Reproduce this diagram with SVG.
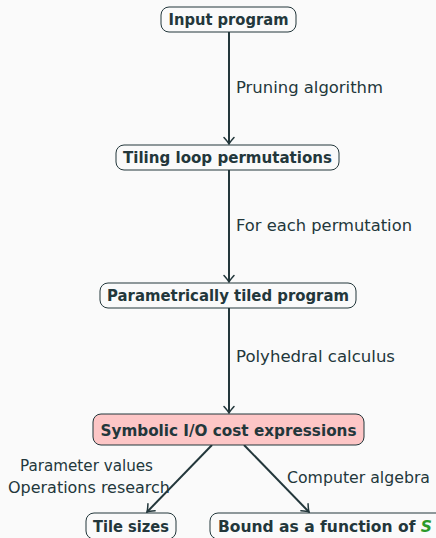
<svg xmlns="http://www.w3.org/2000/svg" width="436" height="538" viewBox="0 0 436 538">
  <defs>
    <marker id="tip" viewBox="-8 -6 10 12" markerWidth="10" markerHeight="12" refX="0" refY="0" orient="auto" markerUnits="userSpaceOnUse">
      <path d="M-6.5,-5 Q-2,-1 0,0 Q-2,1 -6.5,5" fill="none" stroke="#23373b" stroke-width="1.5" stroke-linecap="round"/>
    </marker>
  </defs>
  <style>
    .box { fill: #fafafa; stroke: #23373b; stroke-width: 1; }
    .hot { fill: #fdc6c6; }
    .nt { font-family: "DejaVu Sans", sans-serif; font-weight: bold; font-size: 15.5px; fill: #23373b; text-anchor: middle; }
    .lb { font-family: "DejaVu Sans", sans-serif; font-size: 15.5px; fill: #23373b; }
    .edge { stroke: #23373b; stroke-width: 2; fill: none; marker-end: url(#tip); }
    .s { fill: #2a9a2a; font-style: italic; }
  </style>
  <rect width="436" height="538" fill="#fafafa"/>

  <g id="edges">
    <line class="edge" x1="229" y1="32" x2="229" y2="144"/>
    <line class="edge" x1="229" y1="170" x2="229" y2="282"/>
    <line class="edge" x1="229" y1="308" x2="229" y2="413"/>
    <line class="edge" x1="212" y1="445" x2="147" y2="512"/>
    <line class="edge" x1="244" y1="445" x2="309" y2="512"/>
    <text class="lb" x="236" y="93" textLength="147" lengthAdjust="spacingAndGlyphs">Pruning algorithm</text>
    <text class="lb" x="236" y="231" textLength="176" lengthAdjust="spacingAndGlyphs">For each permutation</text>
    <text class="lb" x="236" y="362" textLength="159" lengthAdjust="spacingAndGlyphs">Polyhedral calculus</text>
    <text class="lb" x="20" y="471" textLength="133" lengthAdjust="spacingAndGlyphs">Parameter values</text>
    <text class="lb" x="8" y="493" textLength="162" lengthAdjust="spacingAndGlyphs">Operations research</text>
    <text class="lb" x="287" y="483" textLength="143" lengthAdjust="spacingAndGlyphs">Computer algebra</text>
  </g>

  <g id="input">
    <rect class="box" x="161" y="7" width="135" height="25" rx="8"/>
    <text class="nt" x="228.5" y="25" textLength="120" lengthAdjust="spacingAndGlyphs">Input program</text>
  </g>
  <g id="tiling">
    <rect class="box" x="116" y="145" width="223" height="25" rx="8"/>
    <text class="nt" x="227.5" y="163" textLength="209" lengthAdjust="spacingAndGlyphs">Tiling loop permutations</text>
  </g>
  <g id="parametric">
    <rect class="box" x="100" y="283" width="256" height="25" rx="8"/>
    <text class="nt" x="228" y="301" textLength="242" lengthAdjust="spacingAndGlyphs">Parametrically tiled program</text>
  </g>
  <g id="symbolic">
    <rect class="box hot" x="93" y="414" width="271" height="31" rx="8"/>
    <text class="nt" x="228.5" y="436" textLength="256" lengthAdjust="spacingAndGlyphs">Symbolic I/O cost expressions</text>
  </g>
  <g id="tilesizes">
    <rect class="box" x="86" y="513" width="90" height="26" rx="8"/>
    <text class="nt" x="131" y="532" textLength="76" lengthAdjust="spacingAndGlyphs">Tile sizes</text>
  </g>
  <g id="bound">
    <rect class="box" x="210" y="513" width="236" height="26" rx="8"/>
    <text class="nt" x="218" y="532" style="text-anchor:start" textLength="214" lengthAdjust="spacingAndGlyphs">Bound as a function of <tspan class="s">S</tspan></text>
  </g>
</svg>
